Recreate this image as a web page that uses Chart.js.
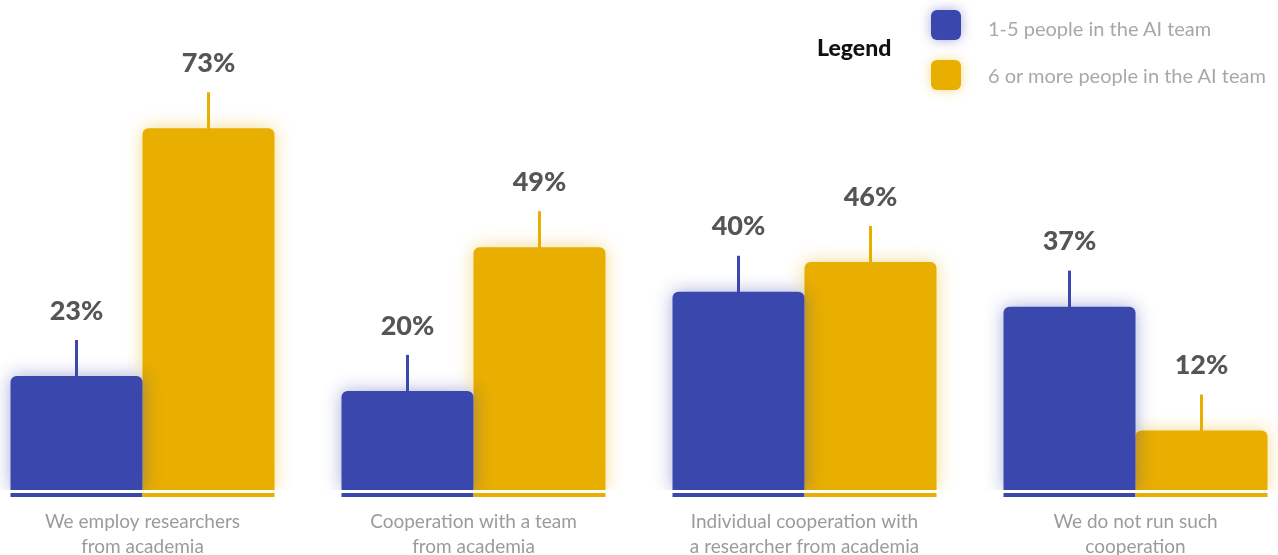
<!DOCTYPE html>
<html>
<head>
<meta charset="utf-8">
<script src="https://cdn.jsdelivr.net/npm/chart.js@4.4.1/dist/chart.umd.min.js"></script>
<style>
  html, body { margin: 0; padding: 0; background: #fff; overflow: hidden; width: 1278px; height: 555px; }
  #wrap { position: absolute; left: -23px; top: 0; width: 1324px; height: 560px; }
  #legend { position: absolute; left: 0; top: 0; font-family: Lato, sans-serif; }
  #legend .title { position: absolute; left: 817px; top: 33px; font-size: 23px; font-weight: 900; color: #111; white-space: nowrap; line-height: 28px; }
  #legend .sw { position: absolute; left: 931px; width: 30px; height: 30px; border-radius: 6px; }
  #legend .txt { position: absolute; left: 988px; font-size: 20px; color: #a8a8a8; white-space: nowrap; line-height: 24px; }
</style>
</head>
<body>
<div id="wrap"><canvas id="chart"></canvas></div>
<div id="legend"></div>
<script>
// data
const categories = [
  ['We employ researchers', 'from academia'],
  ['Cooperation with a team', 'from academia'],
  ['Individual cooperation with', 'a researcher from academia'],
  ['We do not run such', 'cooperation']
];
const seriesNames = ['1-5 people in the AI team', '6 or more people in the AI team'];
const small = [23, 20, 40, 37];
const large = [73, 49, 46, 12];

const colors = ['#3a48ae', '#e8ae00'];
const glows = ['rgba(58,72,174,0.45)', 'rgba(232,174,0,0.45)'];

// legend (html)
const legendEl = document.getElementById('legend');
legendEl.innerHTML = '<div class="title">Legend</div>' + seriesNames.map((name, i) =>
  `<div class="sw" style="top:${10 + i * 50}px;background:${colors[i]};box-shadow:0 0 12px ${glows[i]}"></div>` +
  `<div class="txt" style="top:${16 + i * 47}px">${name}</div>`
).join('');

// glow behind bars
const glowPlugin = {
  id: 'glow',
  beforeDatasetDraw(chart, args) {
    const ctx = chart.ctx;
    ctx.save();
    ctx.shadowColor = glows[args.index];
    ctx.shadowBlur = 18;
  },
  afterDatasetDraw(chart) {
    chart.ctx.restore();
  }
};

// value labels, stems and underlines
const labelPlugin = {
  id: 'valueLabels',
  afterDatasetsDraw(chart) {
    const ctx = chart.ctx;
    chart.data.datasets.forEach((ds, di) => {
      chart.getDatasetMeta(di).data.forEach((bar, i) => {
        const half = bar.width / 2;
        ctx.save();
        // underline
        ctx.fillStyle = colors[di];
        ctx.fillRect(bar.x - half, bar.base + 3, bar.width, 4);
        ctx.fillStyle = 'rgba(255,255,255,0.85)';
        ctx.fillRect(bar.x - half, bar.base, bar.width, 3);
        // stem
        ctx.strokeStyle = colors[di];
        ctx.lineWidth = 3;
        ctx.beginPath();
        ctx.moveTo(bar.x, bar.y + 2);
        ctx.lineTo(bar.x, bar.y - 36);
        ctx.stroke();
        // label
        ctx.fillStyle = '#555';
        ctx.font = '900 27px Lato, sans-serif';
        ctx.textAlign = 'center';
        ctx.textBaseline = 'middle';
        ctx.fillText(ds.data[i] + '%', bar.x, bar.y - 65);
        ctx.restore();
      });
    });
  }
};

new Chart(document.getElementById('chart'), {
  type: 'bar',
  data: {
    labels: categories,
    datasets: [
      { label: seriesNames[0], data: small, backgroundColor: colors[0] },
      { label: seriesNames[1], data: large, backgroundColor: colors[1] }
    ]
  },
  options: {
    responsive: true,
    maintainAspectRatio: false,
    animation: false,
    layout: { padding: { top: 44, left: 0, right: 0, bottom: 0 } },
    datasets: {
      bar: {
        categoryPercentage: 0.7976,
        barPercentage: 1,
        borderRadius: { topLeft: 6, topRight: 6, bottomLeft: 0, bottomRight: 0 },
        borderSkipped: 'bottom'
      }
    },
    scales: {
      x: {
        grid: { display: false },
        border: { display: false },
        ticks: {
          color: '#9b9b9b',
          padding: 11,
          font: { family: 'Lato', size: 19, lineHeight: 1.32 }
        },
        afterFit(scale) { scale.height = 70; }
      },
      y: { display: false, min: 0, max: 90 }
    },
    plugins: {
      legend: { display: false },
      tooltip: { enabled: false }
    }
  },
  plugins: [glowPlugin, labelPlugin]
});
</script>
</body>
</html>
